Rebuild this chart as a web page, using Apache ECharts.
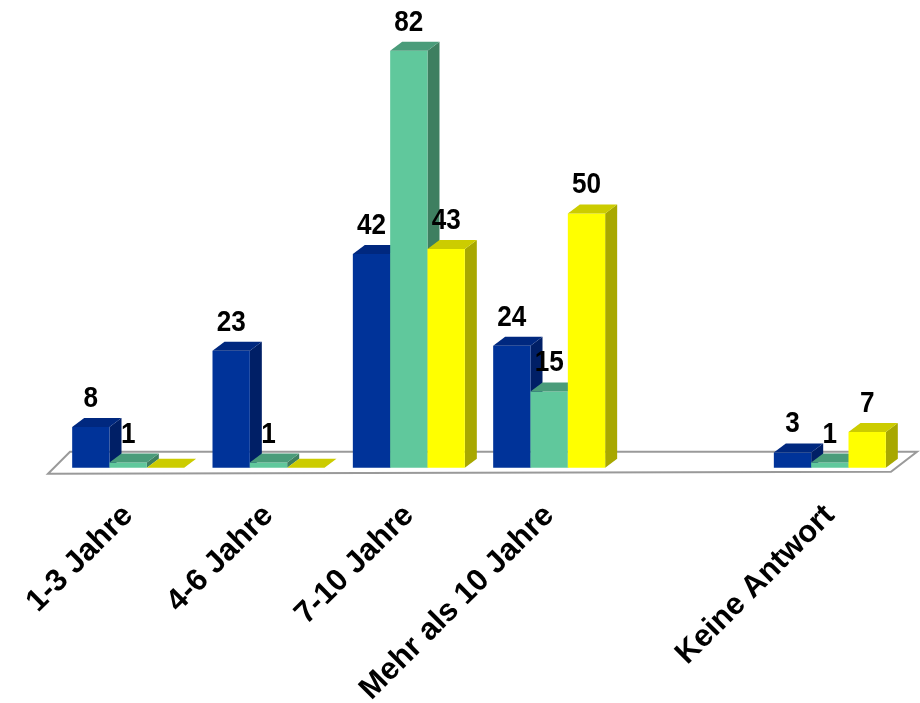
<!DOCTYPE html>
<html>
<head>
<meta charset="utf-8">
<script src="https://cdn.jsdelivr.net/npm/echarts@6/dist/echarts.min.js"></script>
<style>
html,body{margin:0;padding:0;background:#fff;}
#chart{width:920px;height:703px;}
</style>
</head>
<body>
<div id="chart"></div>
<script>
// ---- data ----
const categories = ['1-3 Jahre', '4-6 Jahre', '7-10 Jahre', 'Mehr als 10 Jahre', '', 'Keine Antwort'];
const seriesBlue   = [8, 23, 42, 24, null, 3];
const seriesGreen  = [1, 1, 82, 15, null, 1];
const seriesYellow = [0, 0, 43, 50, null, 7];

// ---- styles ----
const FONT = '"Liberation Sans", Arial, sans-serif';
const palettes = [
  { front: '#003399', top: '#00287f', side: '#001f66' },
  { front: '#60c89c', top: '#4a9c7a', side: '#3e7f60' },
  { front: '#ffff00', top: '#cccc00', side: '#a8a800' }
];
const DX = 12, DY = 9, BAR_RATIO = 0.266;

function makeBarRender(seriesIndex) {
  const pal = palettes[seriesIndex];
  return function (params, api) {
    const idx = api.value(0);
    const val = api.value(1);
    const base = api.coord([idx, 0]);
    const top = api.coord([idx, val]);
    const bw = api.size([1, 0])[0] * BAR_RATIO;
    const x0 = base[0] + (seriesIndex - 1.5) * bw;
    const x1 = x0 + bw;
    const yb = base[1];
    const yt = top[1];
    const children = [];
    if (yb - yt > 0.5) {
      children.push({ type: 'polygon', shape: { points: [[x1, yt], [x1 + DX, yt - DY], [x1 + DX, yb - DY], [x1, yb]] }, style: { fill: pal.side } });
      children.push({ type: 'rect', shape: { x: x0, y: yt, width: bw, height: yb - yt }, style: { fill: pal.front } });
    }
    children.push({ type: 'polygon', shape: { points: [[x0, yt], [x0 + DX, yt - DY], [x1 + DX, yt - DY], [x1, yt]] }, style: { fill: pal.top } });
    if (val > 0) {
      children.push({
        type: 'text',
        x: (x0 + x1) / 2, y: yt - DY - 19,
        scaleX: 0.9,
        style: {
          x: 0, y: 0,
          text: String(val),
          fill: '#000',
          font: 'bold 29px ' + FONT,
          textAlign: 'center', textVerticalAlign: 'middle'
        }
      });
    }
    return { type: 'group', children: children };
  };
}

function floorRender(params, api) {
  const cs = params.coordSys;
  const base = cs.y + cs.height;
  const L = cs.x, R = cs.x + cs.width;
  return {
    type: 'polygon',
    shape: { points: [[L - 10, base + 6], [R - 9, base + 4], [R + 17, base - 16], [L + 12, base - 16]] },
    style: { fill: '#fff', stroke: '#9a9a9a', lineWidth: 2 }
  };
}

function toData(arr) {
  const out = [];
  arr.forEach((v, i) => { if (v !== null && v !== undefined) out.push([i, v]); });
  return out;
}

const chart = echarts.init(document.getElementById('chart'), null, { renderer: 'canvas' });
chart.setOption({
  animation: false,
  backgroundColor: '#fff',
  grid: { left: 58, right: 20, top: 10, bottom: 235.3, containLabel: false, outerBoundsMode: 'none' },
  xAxis: {
    type: 'category',
    data: categories,
    axisLine: { show: false },
    axisTick: { show: false },
    splitLine: { show: false },
    axisLabel: {
      interval: 0, rotate: 45, margin: 43, hideOverlap: false,
      fontFamily: FONT, fontWeight: 'bold', fontSize: 31, color: '#000'
    }
  },
  yAxis: { type: 'value', min: 0, max: 90, show: false },
  series: [
    { type: 'custom', name: 'floor', data: [[0, 0]], renderItem: floorRender, silent: true, z: 1 },
    { type: 'custom', name: 'Blau', data: toData(seriesBlue), renderItem: makeBarRender(0), encode: { x: 0, y: 1 }, z: 2 },
    { type: 'custom', name: 'Grün', data: toData(seriesGreen), renderItem: makeBarRender(1), encode: { x: 0, y: 1 }, z: 3 },
    { type: 'custom', name: 'Gelb', data: toData(seriesYellow), renderItem: makeBarRender(2), encode: { x: 0, y: 1 }, z: 4 }
  ]
});
</script>
</body>
</html>
